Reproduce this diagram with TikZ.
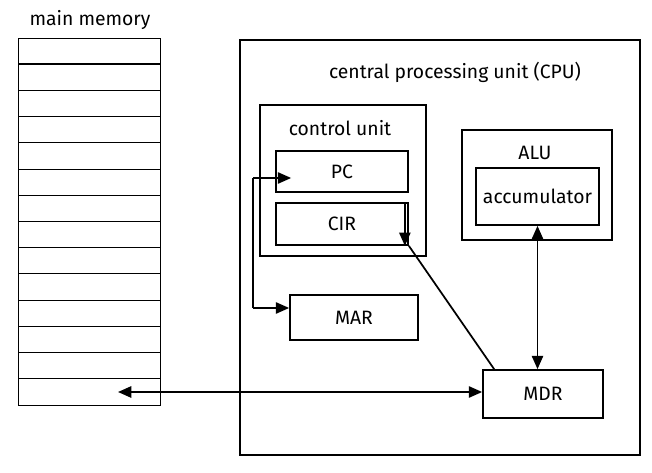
\documentclass[tikz,border=0pt]{standalone}
\usepackage{fontspec}
\setmainfont{Fira Sans}
\usepackage{tikz}
\usetikzlibrary{positioning,shapes,arrows,arrows.meta}

\tikzset{
  box/.style={draw, rectangle, line width=1.3pt, inner sep=0pt, font=\fontsize{14.5}{16}\selectfont},
  lbl/.style={inner sep=0pt, font=\fontsize{14.5}{16}\selectfont},
  link/.style={line width=1.3pt},
  tip/.style={-{Triangle[length=10pt,width=8.5pt]}},
  tips/.style={{Triangle[length=10pt,width=8.5pt]}-{Triangle[length=10pt,width=8.5pt]}}
}

\begin{document}
\begin{tikzpicture}[x=0.75pt, y=-0.75pt]
            \useasboundingbox (0,0) rectangle (652,473);

            % main memory
            \node[lbl] (memtitle) at (90,20) {main memory};
            \node[box, line width=0.7pt, minimum width=106.5pt, minimum height=275.25pt] (mem) at (89,221.5) {};
            \foreach \k in {1,...,13}
                \draw[line width=0.7pt] (18,38+\k*26.2) -- (160,38+\k*26.2);
            \draw[line width=1.3pt] (18,64.2) -- (160,64.2);
            \draw[line width=1.3pt] (18,352.4) -- (160,352.4);
            \coordinate (memport) at (118,392);

            % CPU
            \node[box, minimum width=300pt, minimum height=311.25pt] (cpu) at (440,247.5) {};
            \node[lbl] (cputitle) at (455,72) {central processing unit (CPU)};

            % control unit
            \node[box, minimum width=124.5pt, minimum height=113.25pt] (cu) at (343,180.5) {};
            \node[lbl] (cutitle) at (340,128) {control unit};
            \node[box, minimum width=99pt, minimum height=30.75pt] (pc) at (342,171.5) {PC};
            \node[box, minimum width=99pt, minimum height=31.5pt] (cir) at (342,224) {CIR};
            \node[box, minimum width=96pt, minimum height=33.75pt] (mar) at (354,317.5) {MAR};

            % ALU
            \node[box, minimum width=112.5pt, minimum height=82.5pt] (alu) at (537,185) {};
            \node[lbl] (alutitle) at (535,153) {ALU};
            \node[box, minimum width=92.25pt, minimum height=42.75pt] (acc) at (537.5,196.5) {accumulator};

            \node[box, minimum width=90pt, minimum height=36pt] (mdr) at (543,394) {MDR};

            % connections
            \coordinate (cutop) at (253,178);
            \coordinate (cubot) at (253,308);
            \draw[link] (cutop) -- (cubot);
            \draw[link, tip] (cutop) -- ([xshift=12pt]cutop -| pc.west);
            \draw[link, tip] (cubot) -- (cubot -| mar.west);
            \draw[link, tip] ([xshift=-3pt]cir.north east) -- ([xshift=-3pt]cir.south east);
            \draw[link] (cir.south east) -- ([xshift=9pt]mdr.north west);
            \draw[link, tips] (acc.south) -- (acc.south |- mdr.north);
            \draw[link, tips] (memport) -- (memport -| mdr.west);
        \end{tikzpicture}
\end{document}
